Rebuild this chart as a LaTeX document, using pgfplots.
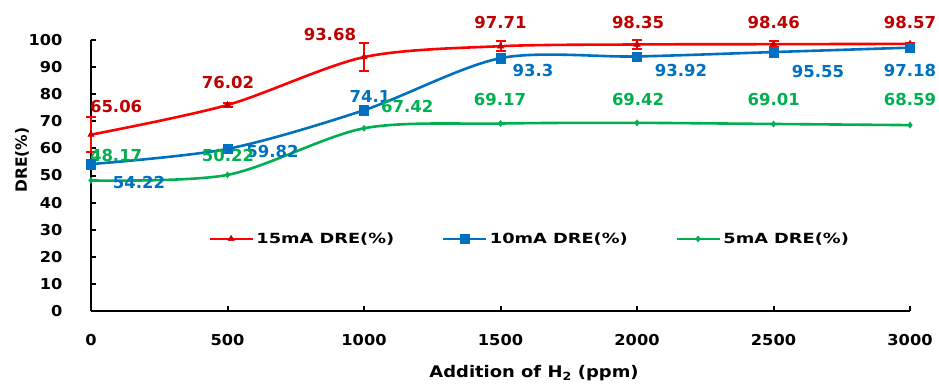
\documentclass[border=0pt]{standalone}
\usepackage{pgfplots}
\usepackage{pgfplotstable}
\pgfplotsset{compat=1.18}
\usepackage{fontspec}
\setmainfont{DejaVu Sans}
\newfontfamily\lbf{DejaVu Sans Bold}
\newfontfamily\lgf{DejaVu Sans Bold}[FakeStretch=1.27]
\newfontfamily\tkf{DejaVu Sans Bold}[FakeStretch=1.08]
\newfontfamily\xlf{DejaVu Sans Bold}[FakeStretch=1.12]
\definecolor{cred}{HTML}{FF0000}
\definecolor{dred}{HTML}{C00000}
\definecolor{cblue}{HTML}{0070C0}
\definecolor{cgreen}{HTML}{00B050}

\pgfplotstableread{
x y e
0 65.06 6.5
500 76.02 0.8
1000 93.68 5.3
1500 97.71 1.9
2000 98.35 1.8
2500 98.46 1.0
3000 98.57 0.5
}\redt
\pgfplotstableread{
x y
0 54.22
500 59.82
1000 74.1
1500 93.3
2000 93.92
2500 95.55
3000 97.18
}\bluet
\pgfplotstableread{
x y
0 48.17
500 50.22
1000 67.42
1500 69.17
2000 69.42
2500 69.01
3000 68.59
}\greent

\begin{document}
\begin{tikzpicture}
\begin{axis}[
  scale only axis, width=819pt, height=271pt,
  xmin=0, xmax=3000, ymin=0, ymax=100,
  axis lines=left, axis line style={-, line width=2.6pt, black},
  tick align=inside, major tick length=5pt,
  major tick style={line width=2pt, black},
  xtick={0,500,...,3000}, ytick={0,10,...,100},
  /pgf/number format/assume math mode=true,
  /pgf/number format/1000 sep={},
  ticklabel style={font=\tkf\fontsize{15}{15}\selectfont},
  xticklabel style={yshift=-20pt},
  yticklabel style={xshift=-25pt},
  xlabel={Addition of H\textsubscript{2} (ppm)},
  ylabel={DRE(\%)},
  every axis x label/.style={at={(rel axis cs:0.541,0)}, yshift=-62pt, anchor=center, font=\xlf\fontsize{16}{16}\selectfont},
  every axis y label/.style={at={(rel axis cs:0,0.557)}, xshift=-69pt, rotate=90, anchor=center, font=\lbf\fontsize{15.5}{15.5}\selectfont},
  clip=false,
  legend columns=3,
  legend style={at={(axis cs:429,26.6)}, anchor=west, draw=none, fill=none, inner sep=0pt,
    font=\lgf\fontsize{14}{14}\selectfont,
    nodes={inner sep=2.5pt},
    /tikz/every even column/.append style={column sep=45pt}},
  legend image code/.code={\draw[mark repeat=2,mark phase=2] plot coordinates {(0pt,0pt)(21.5pt,0pt)(43pt,0pt)};},
]
\addplot[cred, line width=2.6pt, smooth, mark=triangle*, mark size=3.6pt,
  mark options={solid, fill=dred, draw=dred, line width=0.5pt},
  error bars/.cd, y dir=both, y explicit,
  error bar style={line width=2pt, cred},
  error mark options={rotate=90, mark size=5pt, line width=2pt, cred}]
  table[x=x, y=y, y error=e]{\redt};
\addlegendentry{15mA DRE(\%)}
\addplot[cblue, line width=2.6pt, smooth, mark=square*, mark size=4.6pt,
  mark options={solid, fill=cblue, draw=cblue, line width=0.3pt}]
  table[x=x, y=y]{\bluet};
\addlegendentry{10mA DRE(\%)}
\addplot[cgreen, line width=2.6pt, smooth, mark=diamond*, mark size=3.2pt,
  mark options={solid, fill=cgreen, draw=cgreen, line width=0.3pt}]
  table[x=x, y=y]{\greent};
\addlegendentry{5mA DRE(\%)}

\begin{scope}[every node/.style={font=\lbf\fontsize{16.5}{16.5}\selectfont}]
\node[text=dred] at (axis cs:92,75.6) {65.06};
\node[text=dred] at (axis cs:502,84.5) {76.02};
\node[text=dred] at (axis cs:875,102.2) {93.68};
\node[text=dred] at (axis cs:1500,106.5) {97.71};
\node[text=dred] at (axis cs:2004,106.6) {98.35};
\node[text=dred] at (axis cs:2501,106.6) {98.46};
\node[text=dred] at (axis cs:3000,106.6) {98.57};
\node[text=cblue] at (axis cs:176,47.3) {54.22};
\node[text=cblue] at (axis cs:665,59.0) {59.82};
\node[text=cblue] at (axis cs:1022,79.0) {74.1};
\node[text=cblue] at (axis cs:1619,88.6) {93.3};
\node[text=cblue] at (axis cs:2161,88.9) {93.92};
\node[text=cblue] at (axis cs:2663,88.2) {95.55};
\node[text=cblue] at (axis cs:3000,88.9) {97.18};
\node[text=cgreen] at (axis cs:92,57.3) {48.17};
\node[text=cgreen] at (axis cs:502,57.4) {50.22};
\node[text=cgreen] at (axis cs:1158,75.6) {67.42};
\node[text=cgreen] at (axis cs:1498,78.0) {69.17};
\node[text=cgreen] at (axis cs:2004,78.2) {69.42};
\node[text=cgreen] at (axis cs:2501,78.2) {69.01};
\node[text=cgreen] at (axis cs:3000,78.2) {68.59};
\end{scope}
\end{axis}
\pgfresetboundingbox
\path (-91pt,-72pt) rectangle (848pt,311pt);
\end{tikzpicture}
\end{document}
